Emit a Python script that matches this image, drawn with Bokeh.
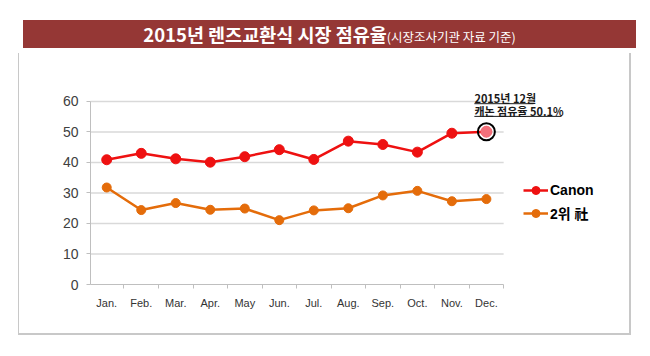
from bokeh.plotting import figure
from bokeh.layouts import column
from bokeh.models import (ColumnDataSource, FixedTicker, Legend, LegendItem, Label, Div, Range1d)
from bokeh.embed import file_html
from bokeh.resources import INLINE

# ---- data ----
months = ["Jan.", "Feb.", "Mar.", "Apr.", "May", "Jun.", "Jul.", "Aug.", "Sep.", "Oct.", "Nov.", "Dec."]
canon = [40.9, 43.0, 41.2, 40.1, 41.9, 44.2, 41.0, 47.0, 45.9, 43.4, 49.6, 50.1]
second = [31.8, 24.4, 26.7, 24.5, 24.9, 21.1, 24.3, 25.0, 29.2, 30.7, 27.3, 28.0]
y_ticks = [0, 10, 20, 30, 40, 50, 60]
series_names = ["Canon", "2위 社"]
title_main = "2015년 렌즈교환식 시장 점유율"
title_sub = "(시장조사기관 자료 기준)"
note_lines = ["2015년 12월", "캐논 점유율 50.1%"]

idx = list(range(len(months)))
src = ColumnDataSource(dict(x=idx, canon=canon, second=second))
last = ColumnDataSource(dict(x=[idx[-1]], y=[canon[-1]]))

RED = "#ee1111"
ORANGE = "#e46c0a"
KFONT = "Noto Sans CJK KR"
LFONT = "Liberation Sans"

PX_X = 34.45   # pixels per category
PX_Y = 3.05    # pixels per percent

p = figure(width=613, height=282, output_backend="svg", toolbar_location=None,
           x_range=Range1d(-0.47, 14.48), y_range=Range1d(0, 64.26),
           min_border_left=71, min_border_right=26, min_border_top=35, min_border_bottom=51,
           styles={"border-left": "1.5px solid #c8c8c8", "border-right": "2px solid #c8c8c8",
                   "border-bottom": "2px solid #c8c8c8"})
p.outline_line_color = None
p.background_fill_color = "white"
p.border_fill_color = "white"

# axes
p.xaxis.bounds = (-0.5, len(months) - 0.5)
p.xaxis.ticker = FixedTicker(ticks=idx, minor_ticks=[i - 0.5 for i in range(len(months) + 1)])
p.xaxis.major_label_overrides = {i: m for i, m in enumerate(months)}
p.xaxis.major_tick_out = 0
p.xaxis.major_tick_in = 0
p.xaxis.minor_tick_out = 4
p.xaxis.minor_tick_in = 0
p.xaxis.minor_tick_line_color = "#bfbfbf"
p.xaxis.axis_line_color = "#bfbfbf"
p.xaxis.major_label_text_font = LFONT
p.xaxis.major_label_text_font_size = "11px"
p.xaxis.major_label_text_color = "#333333"
p.xaxis.major_label_standoff = 8

p.yaxis.bounds = (y_ticks[0], y_ticks[-1])
p.yaxis.ticker = FixedTicker(ticks=y_ticks)
p.yaxis.minor_tick_line_color = None
p.yaxis.major_tick_out = 4
p.yaxis.major_tick_in = 0
p.yaxis.major_tick_line_color = "#bfbfbf"
p.yaxis.axis_line_color = "#bfbfbf"
p.yaxis.major_label_text_font = LFONT
p.yaxis.major_label_text_font_size = "14px"
p.yaxis.major_label_text_color = "#404040"
p.yaxis.major_label_standoff = 8

p.xgrid.grid_line_color = None
p.ygrid.grid_line_color = None
# horizontal gridlines limited to the category span
p.segment(x0=[-0.5] * len(y_ticks[1:]), x1=[len(months) - 0.5] * len(y_ticks[1:]),
          y0=y_ticks[1:], y1=y_ticks[1:], line_color="#d9d9d9", line_width=1.5, level="underlay")

# series
l1 = p.line("x", "canon", source=src, line_color=RED, line_width=2.5)
s1 = p.scatter("x", "canon", source=src, size=10, fill_color=RED, line_color=RED)
l2 = p.line("x", "second", source=src, line_color=ORANGE, line_width=2.5)
s2 = p.scatter("x", "second", source=src, size=9, fill_color=ORANGE, line_color=ORANGE)

# highlight December
p.scatter("x", "y", source=last, size=11, fill_color="#f2707b", line_color="#f2707b")
p.scatter("x", "y", source=last, size=17, fill_alpha=0, line_color="black", line_width=2)

# note with underlines
xd, yd = idx[-1], canon[-1]
note_dy = [33.5, 21.0]
under_dy = [28.0, 15.3]
under_w = [59, 87]
for t, dy, udy, w in zip(note_lines, note_dy, under_dy, under_w):
    p.add_layout(Label(x=xd, y=yd, x_offset=-12, y_offset=dy, text=t,
                       text_font=KFONT, text_font_size="11px", text_font_style="bold",
                       text_color="#1a1a1a", text_baseline="middle"))
    p.segment(x0=[xd - 12 / PX_X], x1=[xd + (w - 12) / PX_X],
              y0=[yd + udy / PX_Y], y1=[yd + udy / PX_Y], line_color="#1a1a1a", line_width=1)

# legend
legend = Legend(items=[LegendItem(label=series_names[0], renderers=[l1, s1]),
                       LegendItem(label=series_names[1], renderers=[l2, s2])],
                location=(433, 61), glyph_width=25, glyph_height=20, label_height=20,
                spacing=3, padding=0, margin=0, label_standoff=2,
                label_text_font="'Liberation Sans', 'Noto Sans CJK KR'",
                label_text_font_size="14px", label_text_font_style="bold",
                label_text_color="black", border_line_color=None, background_fill_alpha=0)
p.add_layout(legend)

title_html = (f'<span style="font-size:18.5px;font-weight:bold">{title_main}</span>'
              f'<span style="font-size:12.5px">{title_sub}</span>')
head = Div(text=title_html, width=613, height=28,
           styles={"background-color": "#953735", "color": "white", "text-align": "center",
                   "line-height": "28px", "font-family": KFONT})

root = column(head, p, spacing=0, margin=(15, 0, 0, 18))

open("out.html", "w").write(file_html(root, INLINE))
